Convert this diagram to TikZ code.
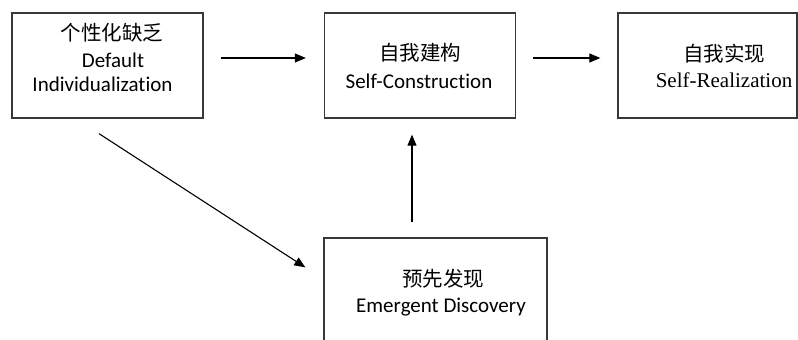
\documentclass[tikz,border=0pt]{standalone}
\usepackage{fontspec}
\setmainfont[Ligatures={NoCommon}]{Carlito}
\newfontfamily\cjk{Noto Sans CJK SC}
\newfontfamily\tnr{Liberation Serif}
\usetikzlibrary{arrows.meta}
\begin{document}
\begin{tikzpicture}[x=1pt,y=-1pt,
  box/.style={draw=black!78,line width=1.3pt,inner sep=0pt},
  arr/.style={line width=1.1pt,-{Triangle[length=11pt,width=9pt]}},
  zh/.style={font=\cjk\fontsize{20.5}{24}\selectfont,inner sep=0pt,anchor=center},
  en/.style={font=\fontsize{21}{25}\selectfont,inner sep=0pt,anchor=base},
  ser/.style={font=\tnr\fontsize{21}{25}\selectfont,inner sep=0pt,anchor=base}]
\useasboundingbox (0,0) rectangle (798,340);
\clip (0,0) rectangle (798,340);
\fill[white] (0,0) rectangle (798,340);
% boxes
\node[box,minimum width=191pt,minimum height=105pt] (b1) at (107.5,65.5) {};
\node[box,minimum width=191pt,minimum height=105pt] (b2) at (420,65.5) {};
\node[box,minimum width=179pt,minimum height=105pt] (b3) at (707.5,65.5) {};
\node[box,minimum width=223pt,minimum height=120pt] (b4) at (435.5,298) {};
% texts
\node[zh] (t1a) at (112,33) {个性化缺乏};
\node[en] (t1b) at (113,67) {Default};
\node[en] (t1c) at (102.5,91) {Individualization};
\node[zh] (t2a) at (420,53) {自我建构};
\node[en] (t2b) at (419,88) {Self-Construction};
\node[zh] (t3a) at (724,54) {自我实现};
\node[ser] (t3b) at (724,87) {Self-Realization};
\node[zh] (t4a) at (443,279) {预先发现};
\node[en] (t4b) at (441,312) {Emergent Discovery};
% connectors
\draw[arr] ([xshift=17pt,yshift=7.5pt]b1.east) -- ([xshift=-18pt,yshift=7.5pt]b2.west);
\draw[arr] ([xshift=17pt,yshift=7.5pt]b2.east) -- ([xshift=-17pt,yshift=7.5pt]b3.west);
\draw[arr] ([xshift=-23.5pt,yshift=15pt]b4.north) -- ([xshift=-8pt,yshift=-16pt]b2.south);
\draw[arr] ([xshift=-8.5pt,yshift=-15pt]b1.south) -- ([xshift=-18pt,yshift=-30pt]b4.north west);
\end{tikzpicture}
\end{document}
